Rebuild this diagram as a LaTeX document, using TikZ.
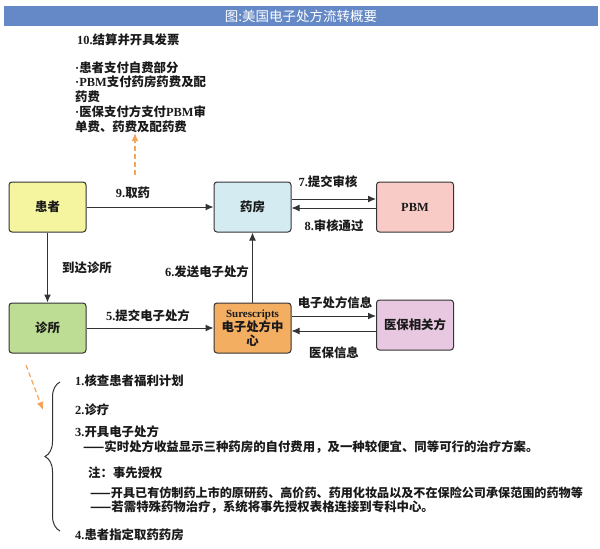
\documentclass[tikz,border=0pt]{standalone}
\usepackage{fontspec}
\setmainfont{Noto Sans CJK SC}
\newfontfamily\enfont{Liberation Serif}
\usepackage{xcolor}
\usepackage{tikz}
\usetikzlibrary{arrows.meta, positioning, decorations.pathreplacing}

\newcommand{\en}[1]{{\enfont\bfseries #1}}

\definecolor{titleblue}{HTML}{6589C6}
\definecolor{patientyellow}{HTML}{F4F59E}
\definecolor{pharmblue}{HTML}{D4EBF2}
\definecolor{pbmpink}{HTML}{F8CBC7}
\definecolor{clinicgreen}{HTML}{BCDD93}
\definecolor{huborange}{HTML}{F4AE62}
\definecolor{payerpurple}{HTML}{E8C7E0}
\definecolor{linegray}{HTML}{333333}
\definecolor{hintorange}{HTML}{F5A55A}
\definecolor{textdark}{HTML}{1A1A1A}

\begin{document}
\begin{tikzpicture}[x=1pt, y=-1pt,
			>={Latex[length=8pt,width=7pt]},
			box/.style={draw=linegray, line width=1pt, rounded corners=3pt,
				minimum width=77pt, minimum height=50pt, inner sep=2pt,
				font=\bfseries\fontsize{12.4}{14}\selectfont, text=textdark},
			flow/.style={->, draw=linegray, line width=1pt},
			hint/.style={->, draw=hintorange, line width=1.2pt,
				dash pattern=on 5pt off 3pt},
			lbl/.style={font=\bfseries\fontsize{12.4}{14}\selectfont,
				text=textdark, inner sep=0pt},
			item/.style={lbl, anchor=west}]

			\useasboundingbox (0,0) rectangle (600,549);

			% title bar
			\node[fill=titleblue, minimum width=594pt, minimum height=20pt, inner sep=0pt,
				text=white, font=\fontsize{13.5}{14}\selectfont] (title) at (301,16)
				{图:美国电子处方流转概要};

			% parties
			\node[box, fill=patientyellow] (hz) at (47.5,207) {患者};
			\node[box, fill=pharmblue] (yf) at (252.5,207) {药房};
			\node[box, fill=pbmpink] (pbm) at (415,207) {\en{PBM}};
			\node[box, fill=clinicgreen] (zs) at (47.5,328) {诊所};
			\node[box, fill=huborange, align=center] (sc) at (252.5,328)
				{\en{\fontsize{11}{13}\selectfont Surescripts}\\电子处方中\\心};
			\node[box, fill=payerpurple] (yb) at (415,325) {医保相关方};

			% flows
			\draw[flow] (hz.east) -- (yf.west);
			\draw[flow] ([yshift=8pt]yf.east) -- ([yshift=8pt]yf.east -| pbm.west);
			\draw[flow] ([yshift=-1pt]pbm.west) -- ([yshift=-1pt]pbm.west -| yf.east);
			\draw[flow] (hz.south) -- (zs.north);
			\draw[flow] (zs.east) -- (sc.west);
			\draw[flow] (sc.north) -- (yf.south);
			\draw[flow] ([yshift=12pt]sc.east) -- ([yshift=12pt]sc.east -| yb.west);
			\draw[flow] ([yshift=-3pt]sc.east -| yb.west) -- ([yshift=-3pt]sc.east);

			% flow labels
			\node[lbl] (l9) at (133,193) {\en{9.}取药};
			\node[lbl] (l7) at (328,182) {\en{7.}提交审核};
			\node[lbl] (l8) at (334,226) {\en{8.}审核通过};
			\node[lbl] (ldz) at (87,268) {到达诊所};
			\node[lbl] (l6) at (207,272) {\en{6.}发送电子处方};
			\node[lbl] (l5) at (148,316) {\en{5.}提交电子处方};
			\node[lbl] (lrx) at (335,303) {电子处方信息};
			\node[lbl] (lyb) at (334,353) {医保信息};

			% settlement notes
			\node[item] (t10) at (77,40) {\en{10.}结算并开具发票};
			\node[item] (pay1) at (75,68) {\en{·}患者支付自费部分};
			\node[item] (pay2) at (75,82) {\en{·PBM}支付药房药费及配};
			\node[item] (pay3) at (75,97) {药费};
			\node[item] (pay4) at (75,112) {\en{·}医保支付方支付\en{PBM}审};
			\node[item] (pay5) at (75,127) {单费、药费及配药费};

			\coordinate (up0) at (135,175);
			\coordinate (up1) at (135,133);
			\draw[hint] (up0) -- (up1);

			% clinic steps
			\coordinate (dn0) at (26,365);
			\coordinate (dn1) at (43,410);
			\draw[hint] (dn0) -- (dn1);

			\coordinate (br0) at (60,531);
			\coordinate (br1) at (60,382);
			\draw[decorate, decoration={brace, amplitude=15pt}, line width=1pt, linegray] (br0) -- (br1);

			\node[item] (s1) at (75,381) {\en{1.}核查患者福利计划};
			\node[item] (s2) at (75,410) {\en{2.}诊疗};
			\node[item] (s3) at (75,432) {\en{3.}开具电子处方};
			\node[item] (s3a) at (83,447) {——实时处方收益显示三种药房的自付费用，及一种较便宜、同等可行的治疗方案。};
			\node[item] (note) at (88,473) {注：事先授权};
			\node[item, font=\bfseries\fontsize{12.1}{14}\selectfont] (n1) at (90,493) {——开具已有仿制药上市的原研药、高价药、药用化妆品以及不在保险公司承保范围的药物等};
			\node[item] (n2) at (90,507) {——若需特殊药物治疗，系统将事先授权表格连接到专科中心。};
			\node[item] (s4) at (75,535) {\en{4.}患者指定取药药房};
		\end{tikzpicture}
\end{document}
